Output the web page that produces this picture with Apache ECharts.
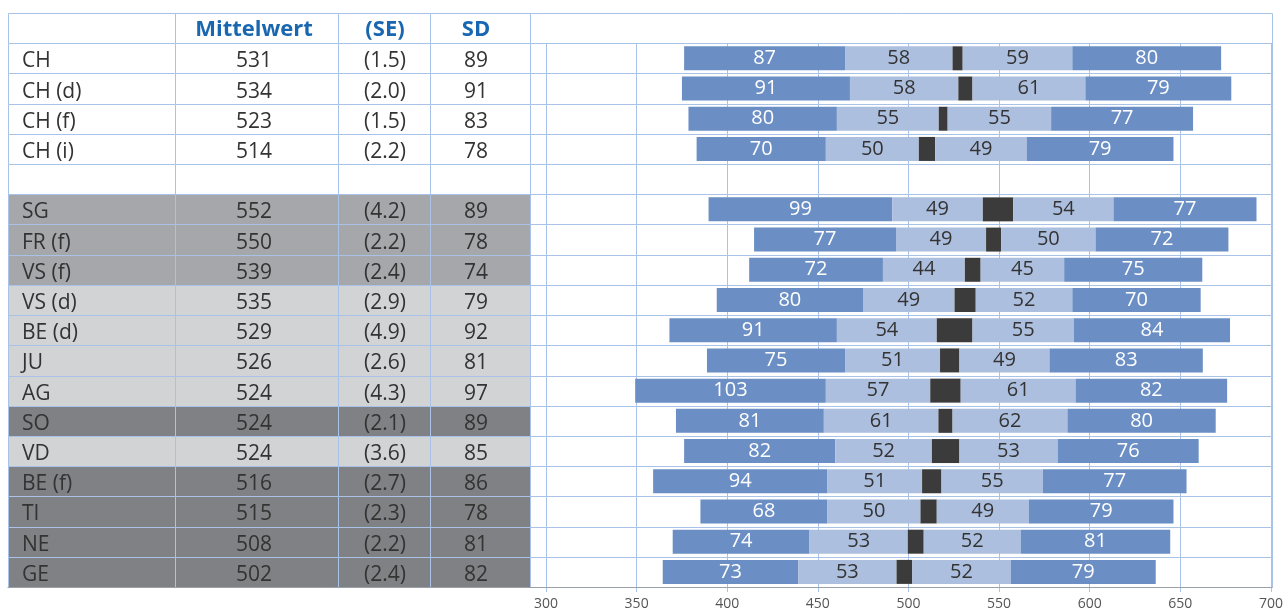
<!DOCTYPE html>
<html>
<head>
<meta charset="utf-8">
<script src="https://cdn.jsdelivr.net/npm/echarts@6/dist/echarts.min.js"></script>
<style>html,body{margin:0;padding:0;background:#fff}#c{width:1286px;height:611px}</style>
</head>
<body>
<div id="c"></div>
<script>
// ---------- data ----------
const headers = ['', 'Mittelwert', '(SE)', 'SD'];
const rows = ['CH','CH (d)','CH (f)','CH (i)','','SG','FR (f)','VS (f)','VS (d)','BE (d)','JU','AG','SO','VD','BE (f)','TI','NE','GE'];
const mittelwert = ['531','534','523','514','','552','550','539','535','529','526','524','524','524','516','515','508','502'];
const seText = ['(1.5)','(2.0)','(1.5)','(2.2)','','(4.2)','(2.2)','(2.4)','(2.9)','(4.9)','(2.6)','(4.3)','(2.1)','(3.6)','(2.7)','(2.3)','(2.2)','(2.4)'];
const sdText = ['89','91','83','78','','89','78','74','79','92','81','97','89','85','86','78','81','82'];
// row group shading: 0 none, 1 light grey, 2 medium grey, 3 dark grey
const rowGroup = [0,0,0,0,0,2,2,2,1,1,1,1,3,1,3,3,3,3];

// segment labels shown in the bars
const labLeftOuter  = [87,91,80,70,null,99,77,72,80,91,75,103,81,82,94,68,74,73];
const labLeftInner  = [58,58,55,50,null,49,49,44,49,54,51,57,61,52,51,50,53,53];
const labRightInner = [59,61,55,49,null,54,50,45,52,55,49,61,62,53,55,49,52,52];
const labRightOuter = [80,79,77,79,null,77,72,75,70,84,83,82,80,76,77,79,81,79];

// segment boundaries (score scale)
const p5   = [376.2,375.0,378.6,383.1,null,389.7,414.8,412.1,394.2,368.1,388.8,349.2,371.7,376.2,359.1,385.2,369.9,364.4];
const p25  = [465.0,467.7,460.5,454.4,null,491.0,493.1,485.9,474.9,460.5,465.0,454.4,453.3,459.6,455.3,455.3,445.4,439.1];
const ciLo = [524.3,527.5,516.7,505.7,null,541.0,542.8,531.1,525.4,515.6,517.4,512.0,516.5,512.9,507.5,506.6,499.6,493.4];
const ciHi = [529.9,535.3,521.6,514.7,null,557.8,551.1,539.8,537.1,535.3,528.1,528.8,524.3,528.1,518.2,515.6,508.4,502.1];
const p75  = [590.4,597.6,578.7,565.2,null,613.1,603.2,585.9,590.4,591.3,577.8,592.2,587.7,582.3,574.2,566.4,561.9,556.4];
const p95  = [672.5,678.1,657.0,646.2,null,692.0,676.5,662.1,661.2,677.4,662.4,675.8,669.5,660.1,653.4,646.2,644.4,636.4];

const axisMin = 300, axisMax = 700, axisStep = 50;

// ---------- layout / style ----------
const colBounds = [0, 167, 330, 422, 522, 1264]; // table frame x units (px from left edge of table)
const textPos = [14, 246, 377, 468];
const FONT = '"Open Sans", "Noto Sans", sans-serif';
const gridColor = '#a9c2e7';
const axisGrey = '#9aa0a8';
const shadeFill = ['#ffffff', '#d1d3d4', '#a6a7aa', '#808184'];
const darkBlue = '#6b8fc5', lightBlue = '#adbfde', black = '#3b3b3b';

const diff = (a, b) => a.map((v, i) => (v == null || b[i] == null) ? null : +(b[i] - v).toFixed(2));

const tableData = [];
for (let r = 0; r <= rows.length; r++) for (let c = 0; c < 5; c++) tableData.push([c, r]);

function cellText(c, r) {
  if (r === 0) return c < 4 ? headers[c] : '';
  const i = r - 1;
  return [rows[i], mittelwert[i], seText[i], sdText[i], ''][c];
}

function renderCell(params, api) {
  const c = api.value(0), r = api.value(1);
  const yc = api.coord([0, r])[1];
  const h = api.size([0, 1])[1];
  const x1 = Math.round(api.coord([colBounds[c], r])[0]) + 0.5;
  const x2 = Math.round(api.coord([colBounds[c + 1], r])[0]) + 0.5;
  const y1 = Math.round(yc - h / 2) + 0.5;
  const y2 = Math.round(yc + h / 2) + 0.5;
  const grp = r === 0 ? 0 : rowGroup[r - 1];
  const children = [{
    type: 'rect',
    shape: { x: x1, y: y1, width: x2 - x1, height: y2 - y1 },
    style: { fill: c < 4 ? shadeFill[grp] : 'rgba(0,0,0,0)', stroke: gridColor, lineWidth: 1 }
  }];
  const t = cellText(c, r);
  if (t) {
    const header = r === 0;
    children.push({
      type: 'text',
      style: {
        text: t,
        x: api.coord([textPos[c], r])[0],
        y: yc + (header ? 2 : 3),
        align: c === 0 ? 'left' : 'center',
        verticalAlign: 'middle',
        fill: header ? '#1a67b1' : '#333333',
        fontSize: header ? 22 : 21,
        fontWeight: header ? 'bold' : 'normal',
        fontFamily: FONT
      }
    });
  }
  return { type: 'group', children };
}

function segLabel(arr, color) {
  return {
    show: true, position: 'inside', color, fontSize: 20, fontFamily: FONT,
    formatter: p => arr[p.dataIndex] == null ? '' : String(arr[p.dataIndex])
  };
}

const rowIdx = rows.map((_, i) => i);
const barCommon = { type: 'bar', stack: 'b', xAxisIndex: 1, yAxisIndex: 1, barWidth: 24, animation: false, emphasis: { disabled: true }, z: 3 };

const chart = echarts.init(document.getElementById('c'), null, { renderer: 'canvas' });
chart.setOption({
  animation: false,
  grid: [
    { left: 8, right: 14, top: 13, bottom: 24 },
    { left: 546, right: 14, top: 13 + 574 / 19, bottom: 24 }
  ],
  xAxis: [
    { gridIndex: 0, type: 'value', min: 0, max: 1264, z: 10,
      axisLine: { show: true, lineStyle: { color: axisGrey, width: 1 } },
      axisTick: { show: false }, axisLabel: { show: false }, splitLine: { show: false } },
    { gridIndex: 1, type: 'value', min: axisMin, max: axisMax, interval: axisStep,
      axisLine: { show: true, lineStyle: { color: axisGrey, width: 1 } },
      axisTick: { show: true, length: 5, lineStyle: { color: gridColor } },
      axisLabel: { color: '#555555', fontSize: 14, fontFamily: FONT, margin: 10 },
      splitLine: { show: true, lineStyle: { color: gridColor, width: 1 } } }
  ],
  yAxis: [
    { gridIndex: 0, type: 'category', inverse: true, data: tableData.filter(d => d[0] === 0).map(d => d[1]), show: false },
    { gridIndex: 1, type: 'category', inverse: true, data: rowIdx, show: false }
  ],
  series: [
    { type: 'custom', xAxisIndex: 0, yAxisIndex: 0, data: tableData, renderItem: renderCell, clip: false, z: 1, silent: true },
    Object.assign({}, barCommon, { data: p5, itemStyle: { color: 'rgba(0,0,0,0)' } }),
    Object.assign({}, barCommon, { data: diff(p5, p25), itemStyle: { color: darkBlue }, label: segLabel(labLeftOuter, '#ffffff') }),
    Object.assign({}, barCommon, { data: diff(p25, ciLo), itemStyle: { color: lightBlue }, label: segLabel(labLeftInner, '#333333') }),
    Object.assign({}, barCommon, { data: diff(ciLo, ciHi), itemStyle: { color: black } }),
    Object.assign({}, barCommon, { data: diff(ciHi, p75), itemStyle: { color: lightBlue }, label: segLabel(labRightInner, '#333333') }),
    Object.assign({}, barCommon, { data: diff(p75, p95), itemStyle: { color: darkBlue }, label: segLabel(labRightOuter, '#ffffff') })
  ]
});
</script>
</body>
</html>
